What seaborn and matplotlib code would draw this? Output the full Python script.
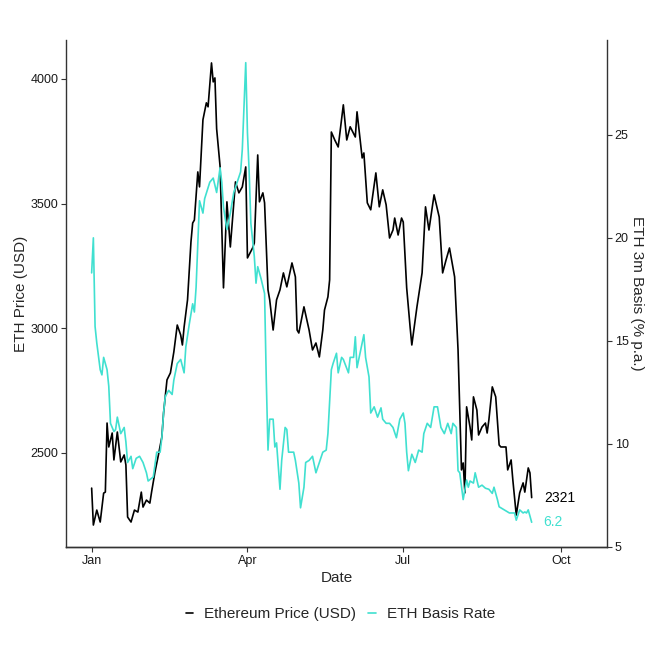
import pandas as pd
import matplotlib.pyplot as plt
import matplotlib.dates as mdates
from matplotlib.lines import Line2D
import seaborn as sns

# ETH price (USD)
price_dates = [
    "2024-01-01", "2024-01-02", "2024-01-04", "2024-01-06", "2024-01-08", "2024-01-09",
    "2024-01-10", "2024-01-11", "2024-01-13", "2024-01-14", "2024-01-16", "2024-01-18",
    "2024-01-20", "2024-01-21", "2024-01-22", "2024-01-24", "2024-01-26", "2024-01-28",
    "2024-01-30", "2024-01-31", "2024-02-02", "2024-02-04", "2024-02-05", "2024-02-07",
    "2024-02-09", "2024-02-11", "2024-02-12", "2024-02-14", "2024-02-16", "2024-02-18",
    "2024-02-20", "2024-02-22", "2024-02-23", "2024-02-24", "2024-02-26", "2024-02-28",
    "2024-02-29", "2024-03-01", "2024-03-03", "2024-03-04", "2024-03-06", "2024-03-08",
    "2024-03-09", "2024-03-11", "2024-03-12", "2024-03-13", "2024-03-14", "2024-03-16",
    "2024-03-18", "2024-03-20", "2024-03-22", "2024-03-25", "2024-03-27", "2024-03-29",
    "2024-03-31", "2024-04-01", "2024-04-04", "2024-04-05", "2024-04-07", "2024-04-08",
    "2024-04-10", "2024-04-11", "2024-04-13", "2024-04-14", "2024-04-16", "2024-04-18",
    "2024-04-20", "2024-04-22", "2024-04-24", "2024-04-27", "2024-04-29", "2024-04-30",
    "2024-05-01", "2024-05-04", "2024-05-07", "2024-05-09", "2024-05-11", "2024-05-13",
    "2024-05-15", "2024-05-16", "2024-05-18", "2024-05-19", "2024-05-20", "2024-05-22",
    "2024-05-24", "2024-05-27", "2024-05-29", "2024-05-31", "2024-06-03", "2024-06-04",
    "2024-06-07", "2024-06-08", "2024-06-10", "2024-06-12", "2024-06-15", "2024-06-17",
    "2024-06-19", "2024-06-21", "2024-06-23", "2024-06-25", "2024-06-26", "2024-06-28",
    "2024-06-30", "2024-07-01", "2024-07-03", "2024-07-05", "2024-07-06", "2024-07-09",
    "2024-07-12", "2024-07-14", "2024-07-16", "2024-07-19", "2024-07-22", "2024-07-24",
    "2024-07-26", "2024-07-28", "2024-07-31", "2024-08-02", "2024-08-04", "2024-08-05",
    "2024-08-06", "2024-08-07", "2024-08-09", "2024-08-10", "2024-08-11", "2024-08-13",
    "2024-08-14", "2024-08-16", "2024-08-18", "2024-08-19", "2024-08-20", "2024-08-22",
    "2024-08-24", "2024-08-26", "2024-08-27", "2024-08-30", "2024-08-31", "2024-09-02",
    "2024-09-03", "2024-09-05", "2024-09-07", "2024-09-09", "2024-09-10", "2024-09-12",
    "2024-09-13", "2024-09-14",
]
price_values = [
    2359, 2211, 2271, 2223, 2339, 2343,
    2620, 2524, 2580, 2472, 2584, 2464,
    2492, 2452, 2243, 2223, 2271, 2263,
    2343, 2283, 2311, 2299, 2343, 2424,
    2492, 2564, 2660, 2793, 2821, 2905,
    3013, 2973, 2933, 3005, 3114, 3346,
    3422, 3434, 3627, 3567, 3836, 3904,
    3888, 4064, 3988, 4004, 3800, 3650,
    3162, 3507, 3326, 3587, 3543, 3567,
    3647, 3282, 3322, 3342, 3695, 3507,
    3543, 3503, 3154, 3114, 2993, 3114,
    3154, 3222, 3166, 3262, 3206, 2993,
    2981, 3086, 2993, 2913, 2941, 2885,
    2993, 3073, 3126, 3194, 3787, 3755,
    3727, 3896, 3755, 3808, 3767, 3868,
    3683, 3703, 3503, 3475, 3623, 3487,
    3555, 3495, 3362, 3394, 3442, 3374,
    3442, 3426, 3162, 3005, 2933, 3086,
    3222, 3487, 3394, 3535, 3446, 3222,
    3274, 3322, 3206, 2913, 2432, 2460,
    2340, 2685, 2604, 2552, 2725, 2672,
    2572, 2604, 2620, 2580, 2632, 2765,
    2725, 2532, 2524, 2524, 2432, 2472,
    2392, 2251, 2340, 2380, 2343, 2440,
    2420, 2321,
]

# ETH 3m basis (% p.a.)
basis_dates = [
    "2024-01-01", "2024-01-02", "2024-01-03", "2024-01-04", "2024-01-06", "2024-01-07",
    "2024-01-08", "2024-01-10", "2024-01-11", "2024-01-12", "2024-01-14", "2024-01-15",
    "2024-01-16", "2024-01-18", "2024-01-20", "2024-01-21", "2024-01-22", "2024-01-24",
    "2024-01-25", "2024-01-27", "2024-01-29", "2024-01-31", "2024-02-02", "2024-02-03",
    "2024-02-06", "2024-02-08", "2024-02-10", "2024-02-11", "2024-02-12", "2024-02-13",
    "2024-02-15", "2024-02-17", "2024-02-18", "2024-02-20", "2024-02-22", "2024-02-24",
    "2024-02-25", "2024-02-27", "2024-02-29", "2024-03-01", "2024-03-02", "2024-03-04",
    "2024-03-06", "2024-03-07", "2024-03-10", "2024-03-12", "2024-03-14", "2024-03-16",
    "2024-03-17", "2024-03-18", "2024-03-20", "2024-03-22", "2024-03-24", "2024-03-26",
    "2024-03-28", "2024-03-29", "2024-03-31", "2024-04-01", "2024-04-02", "2024-04-03",
    "2024-04-05", "2024-04-06", "2024-04-07", "2024-04-09", "2024-04-11", "2024-04-12",
    "2024-04-13", "2024-04-14", "2024-04-16", "2024-04-17", "2024-04-18", "2024-04-20",
    "2024-04-21", "2024-04-23", "2024-04-24", "2024-04-25", "2024-04-28", "2024-04-29",
    "2024-05-01", "2024-05-02", "2024-05-04", "2024-05-05", "2024-05-07", "2024-05-09",
    "2024-05-11", "2024-05-13", "2024-05-15", "2024-05-17", "2024-05-18", "2024-05-20",
    "2024-05-21", "2024-05-23", "2024-05-24", "2024-05-26", "2024-05-27", "2024-05-30",
    "2024-05-31", "2024-06-02", "2024-06-03", "2024-06-04", "2024-06-05", "2024-06-08",
    "2024-06-09", "2024-06-11", "2024-06-12", "2024-06-14", "2024-06-16", "2024-06-18",
    "2024-06-19", "2024-06-21", "2024-06-23", "2024-06-25", "2024-06-27", "2024-06-29",
    "2024-07-01", "2024-07-02", "2024-07-03", "2024-07-04", "2024-07-06", "2024-07-08",
    "2024-07-10", "2024-07-12", "2024-07-13", "2024-07-15", "2024-07-17", "2024-07-19",
    "2024-07-21", "2024-07-23", "2024-07-25", "2024-07-27", "2024-07-29", "2024-07-30",
    "2024-08-01", "2024-08-02", "2024-08-03", "2024-08-05", "2024-08-07", "2024-08-08",
    "2024-08-09", "2024-08-11", "2024-08-12", "2024-08-14", "2024-08-16", "2024-08-18",
    "2024-08-20", "2024-08-22", "2024-08-23", "2024-08-25", "2024-08-26", "2024-08-29",
    "2024-09-01", "2024-09-04", "2024-09-05", "2024-09-07", "2024-09-09", "2024-09-10",
    "2024-09-11", "2024-09-12", "2024-09-14",
]
basis_values = [
    18.3, 20.0, 15.7, 14.9, 13.6, 13.35,
    14.2, 13.6, 12.8, 11.0, 10.6, 10.7,
    11.3, 10.5, 10.8, 10.1, 9.1, 9.4,
    8.8, 9.3, 9.4, 9.1, 8.6, 8.2,
    8.4, 9.6, 9.6, 10.3, 11.5, 12.3,
    12.6, 12.4, 13.1, 13.9, 14.1, 13.45,
    14.7, 15.8, 16.8, 16.4, 17.6, 21.8,
    21.2, 21.9, 22.7, 22.9, 22.2, 23.4,
    22.7, 21.5, 20.4, 21.2, 22.2, 22.7,
    23.2, 24.3, 28.5, 25.1, 23.2, 20.7,
    19.1, 17.8, 18.6, 18.0, 17.3, 13.1,
    9.7, 11.2, 11.2, 9.85, 10.05, 7.8,
    9.2, 10.8, 10.7, 9.6, 9.6, 9.2,
    8.1, 6.9, 7.9, 9.1, 9.2, 9.4,
    8.6, 9.1, 9.6, 9.7, 10.5, 13.6,
    13.9, 14.4, 13.45, 14.2, 14.1, 13.45,
    14.2, 14.2, 15.2, 13.7, 14.1, 15.3,
    14.2, 13.25, 11.5, 11.8, 11.3, 11.75,
    11.2, 11.0, 11.0, 10.8, 10.3, 11.2,
    11.5, 11.0, 9.6, 8.7, 9.5, 9.1,
    9.7, 9.6, 10.5, 11.0, 10.8, 11.8,
    11.8, 10.8, 10.5, 11.0, 10.5, 11.0,
    10.8, 8.7, 8.6, 7.3, 8.25, 7.9,
    8.2, 8.1, 8.6, 7.9, 8.0, 7.85,
    7.8, 7.6, 7.9, 7.3, 6.95, 6.8,
    6.65, 6.65, 6.3, 6.8, 6.65, 6.7,
    6.65, 6.8, 6.2,
]

price_df = pd.DataFrame({"Date": pd.to_datetime(price_dates), "Price": price_values})
basis_df = pd.DataFrame({"Date": pd.to_datetime(basis_dates), "Basis": basis_values})

price_color = "black"
basis_color = "#40E0D0"

sns.set_theme(style="white")
plt.rcParams["font.family"] = ["Liberation Sans", "DejaVu Sans"]

fig = plt.figure(figsize=(6.61, 6.61), dpi=100)
ax = fig.add_axes([0.0998, 0.1725, 0.8185, 0.767])
ax2 = ax.twinx()

sns.lineplot(data=price_df, x="Date", y="Price", ax=ax, color=price_color, lw=1.2)
sns.lineplot(data=basis_df, x="Date", y="Basis", ax=ax2, color=basis_color, lw=1.2)

ax.set_xlim(pd.Timestamp("2023-12-17"), pd.Timestamp("2024-10-28"))
ax.set_ylim(2123, 4156)
ax2.set_ylim(5, 29.6)

ax.xaxis.set_major_locator(mdates.MonthLocator(bymonth=[1, 4, 7, 10]))
ax.xaxis.set_major_formatter(mdates.DateFormatter("%b"))
ax.set_yticks([2500, 3000, 3500, 4000])
ax2.set_yticks([5, 10, 15, 20, 25])

for a in (ax, ax2):
    for s in a.spines.values():
        s.set_color("#333333")
        s.set_linewidth(1.0)
    a.spines["top"].set_visible(False)
    a.tick_params(length=3.5, width=0.8, color="#333333", labelsize=9,
                  labelcolor="#1a1a1a", pad=2)
ax.spines["right"].set_visible(False)
ax2.spines["left"].set_visible(False)
ax.tick_params(axis="x", bottom=True)
ax.tick_params(axis="y", left=True)
ax2.tick_params(axis="y", right=True)
ax.grid(False)
ax2.grid(False)

ax.set_xlabel("Date", fontsize=11, labelpad=3)
ax.set_ylabel("ETH Price (USD)", fontsize=11, labelpad=2)
ax2.set_ylabel("ETH 3m Basis (% p.a.)", fontsize=11, rotation=270, labelpad=11)

# end-of-series labels
last_price = price_df.iloc[-1]
last_basis = basis_df.iloc[-1]
ax.annotate(f"{last_price['Price']:.0f}", (last_price["Date"], last_price["Price"]),
            xytext=(9, 0), textcoords="offset points", va="center", ha="left",
            fontsize=10, color=price_color)
ax2.annotate(f"{last_basis['Basis']:.1f}", (last_basis["Date"], last_basis["Basis"]),
             xytext=(8, 0), textcoords="offset points", va="center", ha="left",
             fontsize=10, color=basis_color)

handles = [
    Line2D([0], [0], color=price_color, lw=1.2),
    Line2D([0], [0], color=basis_color, lw=1.2),
]
fig.legend(handles, ["Ethereum Price (USD)", "ETH Basis Rate"], loc="center",
           bbox_to_anchor=(0.515, 0.071), ncol=2, frameon=False, fontsize=11,
           handlelength=0.5, handletextpad=0.7, columnspacing=0.8)

fig.savefig("out.png", dpi=100, facecolor="white")
